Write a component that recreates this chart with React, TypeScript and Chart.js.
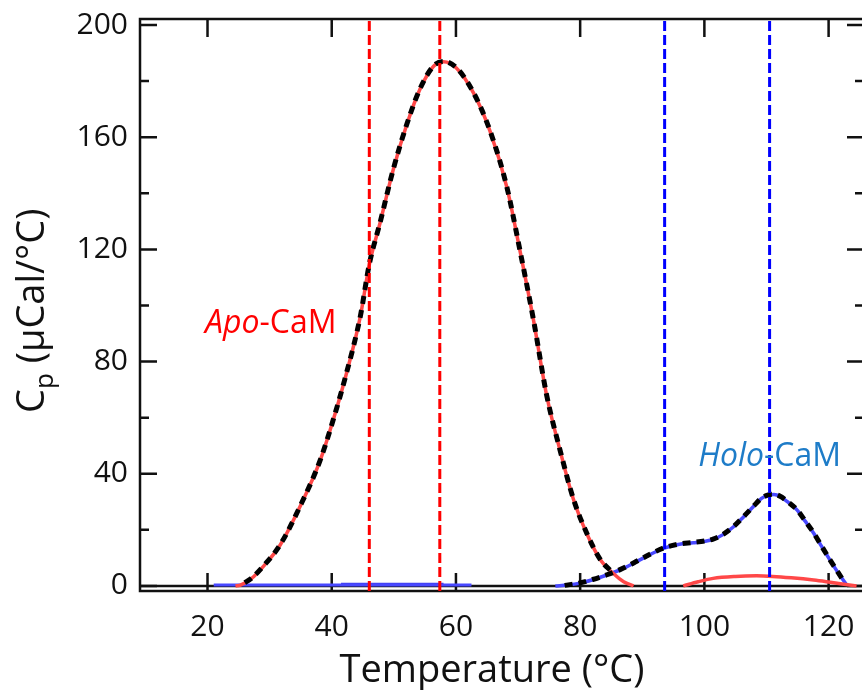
import { useEffect, useRef } from "react";
import { Chart, registerables } from "chart.js";

Chart.register(...registerables);

// ---- data ----
const apoT = [24.5, 25.3, 27, 29, 31.7, 34.9, 38.1, 40.3, 42.4, 44.6, 46.05, 47.8, 49.9, 52.1, 54.2, 56.4, 58, 60.1, 62.8, 65.5, 68.2, 70.3, 72.5, 74.6, 76.8, 78.9, 81.1, 83.2, 85.3, 87, 88.6];
const apoCp = [0, 0.3, 2.5, 7, 14.6, 28.3, 44.5, 59.6, 76, 96, 114.6, 129.6, 148.4, 164.6, 177.1, 185.3, 186.9, 184.6, 175.9, 162.1, 142.1, 119.6, 94.6, 68, 48, 31, 18.5, 9.5, 4.5, 1.5, 0];

const apoFitT = [26, 27, 29, 31.7, 34.9, 38.1, 40.3, 42.4, 44.6, 46.05, 47.8, 49.9, 52.1, 54.2, 56.4, 58, 60.1, 62.8, 65.5, 68.2, 70.3, 72.5, 74.6, 76.8, 78.9, 81.1, 83.2, 85.3];
const apoFitCp = [1.2, 2.6, 7.1, 14.7, 28.4, 44.6, 59.7, 76.1, 96.1, 114.7, 129.7, 148.5, 164.7, 177.2, 185.4, 187, 184.7, 176, 162.2, 142.2, 119.7, 94.7, 68.1, 48.1, 31.1, 18.6, 9.6, 4.6];

const apoHighT = [96.6, 99, 101.4, 105, 108.4, 111, 114, 117.6, 120, 121.9, 124.5];
const apoHighCp = [0, 1.5, 2.7, 3.4, 3.6, 3.4, 2.9, 2.1, 1.4, 0.8, 0];

const holoT = [76, 78, 80, 82, 84.3, 86.5, 88.6, 91, 93.4, 95.8, 98.2, 100, 101.4, 103, 104.7, 106.3, 107.9, 109.2, 110.3, 111.2, 112.2, 113.5, 114.9, 116.2, 117.6, 118.9, 120.2, 121.5, 122.9];
const holoCp = [0, 0.3, 1.0, 2.2, 3.9, 5.8, 8.1, 10.9, 13.4, 14.8, 15.4, 15.9, 16.6, 18.3, 21.1, 24.6, 28.3, 31.2, 32.4, 32.6, 31.9, 29.8, 27.1, 23.2, 18.8, 14.0, 9.3, 4.8, 0.4];

const holoFitT = [77.5, 80, 82, 84.3, 86.5, 88.6, 91, 93.4, 95.8, 98.2, 100, 101.4, 103, 104.7, 106.3, 107.9, 109.2, 110.3, 111.2, 112.2, 113.5, 114.9, 116.2, 117.6, 118.9, 120.2, 121.5, 122.5];
const holoFitCp = [0.2, 1.1, 2.3, 4.0, 5.9, 8.2, 11.0, 13.5, 14.9, 15.5, 16.0, 16.7, 18.4, 21.2, 24.7, 28.4, 31.3, 32.5, 32.7, 32.0, 29.9, 27.2, 23.3, 18.9, 14.1, 9.4, 4.9, 1.5];

const holoLowT = [21, 62.5];
const holoLowCp = [0.3, 0.3];
const holoLow2T = [41.5, 58];
const holoLow2Cp = [0.6, 0.6];

const apoTm = [46.05, 57.4];
const holoTm = [93.6, 110.5];

const xTicks = [20, 40, 60, 80, 100, 120];
const yTicks = [0, 40, 80, 120, 160, 200];
const yMinorTicks = [20, 60, 100, 140, 180];

const X_MIN = 9.13;
const X_MAX = 125.7;
const Y_MIN = -1.8;
const Y_MAX = 202.14;

const FONT = "'Open Sans', 'Noto Sans', sans-serif";

const pts = (xs: number[], ys: number[]) => xs.map((x, i) => ({ x, y: ys[i] }));
const vline = (x: number) => [{ x, y: Y_MIN }, { x, y: Y_MAX }];

const RED = "rgb(255,72,72)";
const BLUE = "rgb(72,72,255)";

const framePlugin = {
  id: "frame",
  beforeDatasetsDraw(chart: any) {
    const { ctx, chartArea } = chart;
    const xs = chart.scales.x;
    const ys = chart.scales.y;
    const { left, right, top, bottom } = chartArea;
    ctx.save();
    ctx.strokeStyle = "#111";
    ctx.lineWidth = 2.5;
    ctx.lineCap = "butt";
    ctx.strokeRect(left, top, right - left, bottom - top);
    const y0 = ys.getPixelForValue(0);
    ctx.beginPath();
    ctx.moveTo(left, y0);
    ctx.lineTo(right, y0);
    ctx.stroke();
    ctx.beginPath();
    yTicks.forEach((v) => {
      const p = ys.getPixelForValue(v);
      ctx.moveTo(left, p);
      ctx.lineTo(left + 17, p);
      ctx.moveTo(right, p);
      ctx.lineTo(right - 17, p);
    });
    yMinorTicks.forEach((v) => {
      const p = ys.getPixelForValue(v);
      ctx.moveTo(left, p);
      ctx.lineTo(left + 9, p);
      ctx.moveTo(right, p);
      ctx.lineTo(right - 9, p);
    });
    xTicks.forEach((v) => {
      const p = xs.getPixelForValue(v);
      ctx.moveTo(p, bottom);
      ctx.lineTo(p, bottom - 18);
      ctx.moveTo(p, top);
      ctx.lineTo(p, top + 18);
    });
    ctx.stroke();
    ctx.restore();
  },
  afterDraw(chart: any) {
    const { ctx } = chart;
    const xs = chart.scales.x;
    const ys = chart.scales.y;
    ctx.save();
    ctx.textBaseline = "alphabetic";
    ctx.textAlign = "left";
    // Apo-CaM label
    let px = xs.getPixelForValue(19.6);
    let py = ys.getPixelForValue(90.2);
    ctx.fillStyle = "#ff0000";
    ctx.font = `italic 32px ${FONT}`;
    ctx.fillText("Apo", px, py);
    px += ctx.measureText("Apo").width;
    ctx.font = `32px ${FONT}`;
    ctx.fillText("-CaM", px, py);
    // Holo-CaM label
    px = xs.getPixelForValue(99.0);
    py = ys.getPixelForValue(42.6);
    ctx.fillStyle = "#1e7cc8";
    ctx.font = `italic 32px ${FONT}`;
    ctx.fillText("Holo", px, py);
    px += ctx.measureText("Holo").width;
    ctx.font = `32px ${FONT}`;
    ctx.fillText("-CaM", px, py);
    // x title
    ctx.fillStyle = "#111";
    ctx.font = `38px ${FONT}`;
    ctx.textAlign = "center";
    ctx.fillText("Temperature (°C)", 492, 682);
    // y title (rotated, with subscript)
    ctx.translate(44, 413);
    ctx.rotate(-Math.PI / 2);
    ctx.textAlign = "left";
    ctx.font = `38px ${FONT}`;
    let cx = 0;
    ctx.fillText("C", cx, 0);
    cx += ctx.measureText("C").width;
    ctx.font = `26px ${FONT}`;
    ctx.fillText("p", cx, 9);
    cx += ctx.measureText("p").width;
    ctx.font = `38px ${FONT}`;
    ctx.fillText(" (µCal/°C)", cx, 0);
    ctx.restore();
  },
};

export default function App() {
  const ref = useRef<HTMLCanvasElement | null>(null);
  useEffect(() => {
    if (!ref.current) return;
    const lineDs = (data: any, color: string, width: number, extra: any = {}) => ({
      data,
      showLine: true,
      borderColor: color,
      borderWidth: width,
      pointRadius: 0,
      ...extra,
    });
    const chart = new Chart(ref.current, {
      type: "scatter",
      data: {
        datasets: [
          ...apoTm.map((t) => lineDs(vline(t), "#ff0000", 3, { borderDash: [10, 4] })),
          ...holoTm.map((t) => lineDs(vline(t), "#0000ff", 3, { borderDash: [10, 4] })),
          lineDs(pts(apoFitT, apoFitCp), "#000", 5, { borderDash: [8, 6], cubicInterpolationMode: "monotone" }),
          lineDs(pts(holoFitT, holoFitCp), "#000", 5, { borderDash: [8, 6], cubicInterpolationMode: "monotone" }),
          lineDs(pts(apoT, apoCp), RED, 3.5, { cubicInterpolationMode: "monotone" }),
          lineDs(pts(apoHighT, apoHighCp), RED, 3.5, { cubicInterpolationMode: "monotone" }),
          lineDs(pts(holoT, holoCp), BLUE, 3.5, { cubicInterpolationMode: "monotone" }),
          lineDs(pts(holoLowT, holoLowCp), BLUE, 3),
          lineDs(pts(holoLow2T, holoLow2Cp), "rgb(60,60,235)", 3),
        ],
      } as any,
      options: {
        animation: false,
        responsive: false,
        layout: { padding: { top: 19, right: 6, left: 0, bottom: 0 } },
        plugins: { legend: { display: false }, tooltip: { enabled: false }, title: { display: false } },
        scales: {
          x: {
            type: "linear",
            min: X_MIN,
            max: X_MAX,
            grid: { display: false, drawTicks: false },
            border: { display: false },
            afterBuildTicks: (s: any) => {
              s.ticks = xTicks.map((v) => ({ value: v }));
            },
            afterFit: (s: any) => {
              s.height = 99;
              s.paddingLeft = 0;
              s.paddingRight = 0;
            },
            ticks: {
              color: "#111",
              font: { family: FONT, size: 30 },
              padding: 18,
              maxRotation: 0,
              autoSkip: false,
            },
          },
          y: {
            type: "linear",
            min: Y_MIN,
            max: Y_MAX,
            grid: { display: false, drawTicks: false },
            border: { display: false },
            afterBuildTicks: (s: any) => {
              s.ticks = yTicks.map((v) => ({ value: v }));
            },
            afterFit: (s: any) => {
              s.width = 140;
              s.paddingTop = 0;
              s.paddingBottom = 0;
            },
            ticks: {
              color: "#111",
              font: { family: FONT, size: 30 },
              padding: 12,
              autoSkip: false,
            },
          },
        },
      } as any,
      plugins: [framePlugin],
    });
    return () => chart.destroy();
  }, []);
  return (
    <div
      style={{
        position: "fixed",
        left: 0,
        top: 0,
        width: 862,
        height: 690,
        overflow: "hidden",
        background: "#fff",
      }}
    >
      <canvas ref={ref} width={870} height={690} style={{ display: "block" }} />
    </div>
  );
}
